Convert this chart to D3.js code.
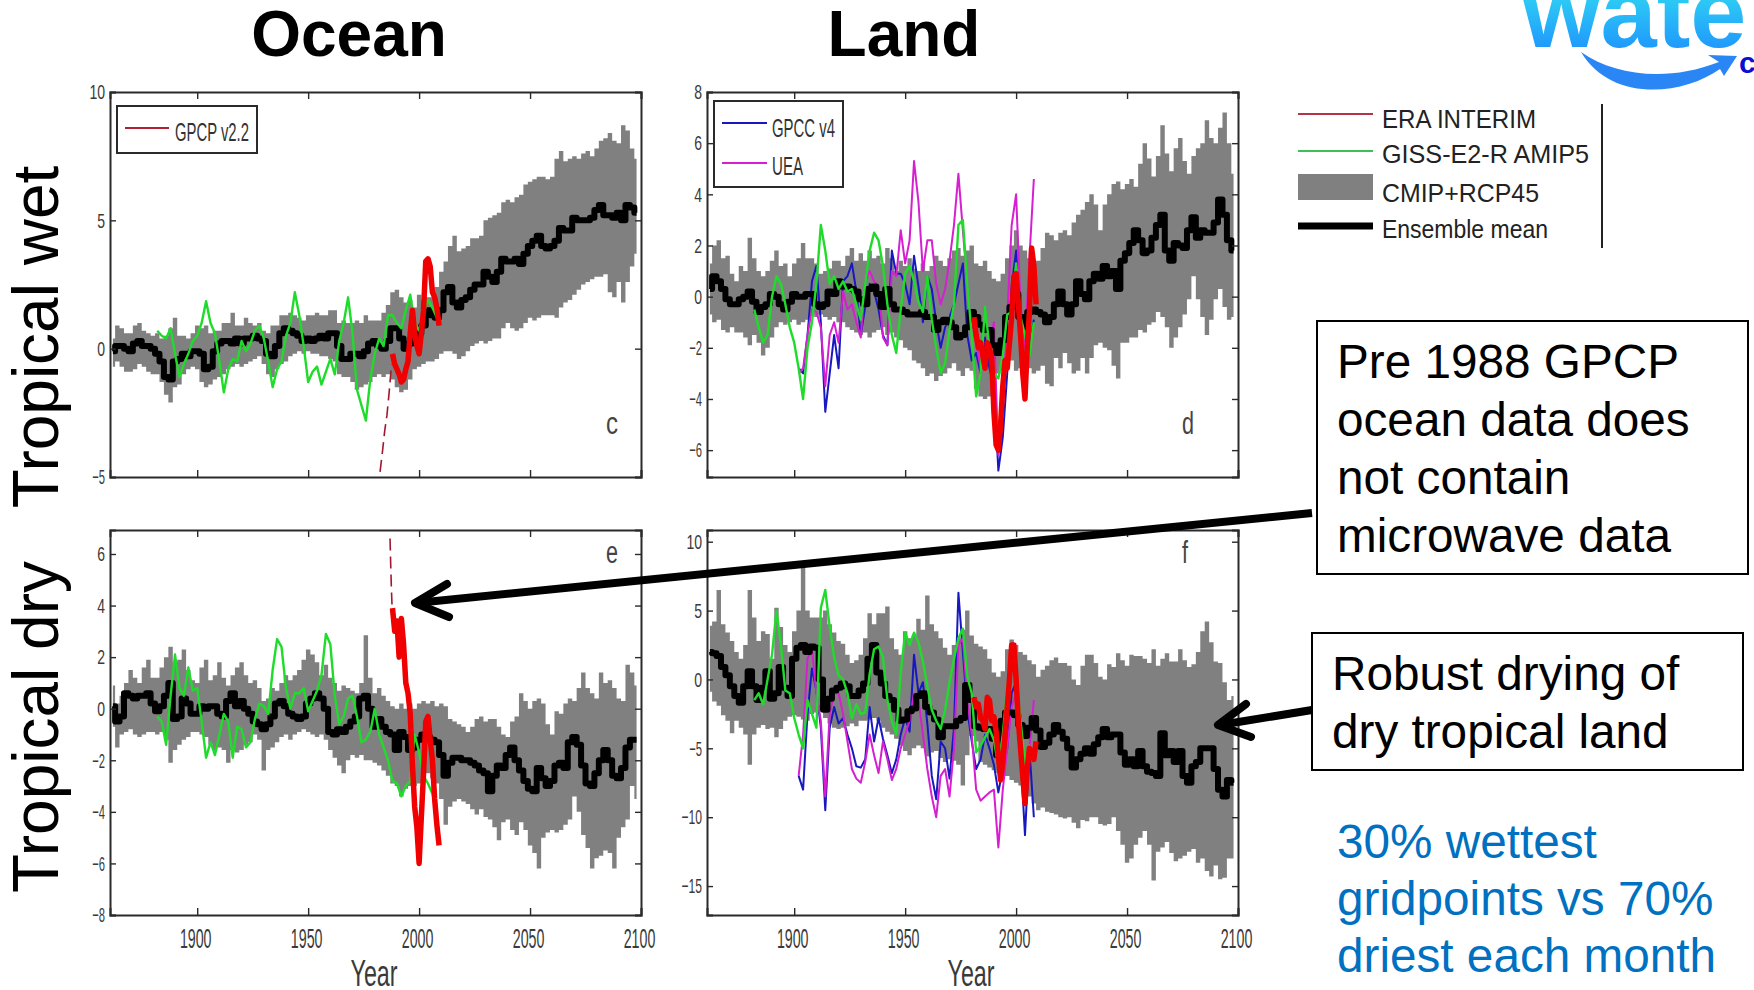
<!DOCTYPE html>
<html><head><meta charset="utf-8">
<script src="https://cdnjs.cloudflare.com/ajax/libs/d3/7.8.5/d3.min.js"></script>
<style>html,body{margin:0;padding:0;background:#fff}svg{display:block}text{font-family:"Liberation Sans",Arial,sans-serif}</style>
</head><body><svg id="c" width="1754" height="990"></svg>
<script>
// Band and mean series: one value per 2 years, first year below
const bandStartYear = 1862;
const obsStartYear = 1902, gissStartYear = 1882, oceanEraStart = 1988, landEraStart = 1981;
const xTicks = [1900,1950,2000,2050,2100];
const yTicksC = [-5,0,5,10], yTicksD = [-6,-4,-2,0,2,4,6,8], yTicksE = [-8,-6,-4,-2,0,2,4,6], yTicksF = [-15,-10,-5,0,5,10];

const upperC = [.4,.9,.8,.6,.6,.9,1.0,.7,.6,.5,
.6,.4,.5,.8,1.2,.5,.5,.4,.6,.9,
.8,.9,.6,.7,.7,1.0,1.0,1.4,.9,.9,
1.2,1.0,.9,1.0,.7,.6,.9,.9,1.3,1.3,
1.4,1.3,1.2,1.1,1.3,1.3,1.4,1.3,1.3,1.5,
1.5,1.0,1.1,1.0,1.0,1.1,1.0,1.3,1.1,1.1,
1.1,1.4,1.7,2.2,2.3,2.0,1.8,1.9,1.6,2.1,
1.9,2.0,2.0,2.4,3.0,3.4,4.0,4.4,3.8,3.9,
4.0,4.3,4.3,4.4,5.0,5.1,5.2,5.3,5.7,5.8,
5.7,5.9,6.0,6.4,6.5,6.6,6.7,6.7,6.6,6.7,
7.4,7.7,7.3,7.4,7.5,7.4,7.6,7.7,7.5,7.8,
8.1,8.2,8.4,8.1,8.0,8.7,8.5,7.8,7.4];
const lowerC = [-.7,-.5,-.7,-.9,-.9,-.8,-.6,-.7,-.9,-1.0,
-1.0,-1.3,-1.8,-2.1,-1.5,-1.4,-1.0,-.8,-.7,-.8,
-1.3,-1.5,-1.4,-1.2,-1.1,-1.0,-.8,-.7,-.6,-.7,
-.6,-.5,-.4,-.3,-.6,-1.0,-1.1,-.8,-.6,-.5,
-.3,-.2,-.1,-.2,-.1,-.2,-.2,-.3,-.3,-.4,
-.5,-1.0,-1.1,-1.1,-1.3,-1.6,-1.5,-1.4,-1.3,-1.1,
-1.0,-1.1,-1.0,-1.2,-1.5,-1.7,-1.6,-1.2,-.8,-.7,
-.6,-.5,-.5,-.4,-.2,-.1,-.1,-.2,-.4,-.3,
-.1,.1,.2,.3,.2,.3,.4,.4,.8,1.0,
.8,.7,.8,1.0,1.2,1.1,1.2,1.3,1.3,1.3,
1.2,1.6,1.8,1.9,2.1,2.3,2.5,2.6,2.7,2.8,
2.8,2.9,2.2,2.0,2.6,1.8,2.6,3.2,3.7];
const meanC = [-.1,.1,.1,0,-.1,.2,.3,.1,.1,0,
-.2,-.5,-1.1,-1.2,-.5,-.4,-.2,-.3,-.1,-.1,
-.2,-.8,-.7,-.1,.2,.3,.3,.2,.4,.2,
.4,.4,.5,.4,.3,-.2,-.3,.1,.6,.8,
.7,.6,.5,.3,.4,.3,.4,.5,.4,.6,
.6,.1,-.4,-.4,-.2,-.2,-.3,-.1,.2,.3,
.1,0,.3,.8,.8,.4,0,.2,.5,.6,
.9,1.5,1.3,1.2,1.5,2.2,2.4,1.8,1.6,1.9,
2.0,2.3,2.5,2.5,3.0,2.8,2.6,3.0,3.5,3.4,
3.4,3.5,3.3,3.7,4.0,4.2,4.4,4.0,3.9,4.0,
4.2,4.7,4.6,4.6,5.1,5.0,5.0,5.0,5.1,5.4,
5.6,5.2,5.2,5.1,5.3,5.0,5.6,5.5,5.3];
const gissC = [.7,.5,.4,.8,-.2,-1.1,-.6,-.2,.3,.5,
1.0,1.85,1.0,.6,-.5,-1.7,-.8,-.4,-.5,.3,
-.1,.2,.7,.9,.4,-.5,-1.5,-.8,-.5,.5,
1.0,2.2,1.3,.1,-1.3,-.9,-.7,-1.4,-.9,-.4,
-1.0,.3,1.0,2.0,.6,-1.6,-2.2,-2.8,-1.2,-.2,
.4,.1,1.3,1.3,1.0,.8,1.5,2.1,1.0,.7,
1.4,1.9,1.6,1.2];
const eraC = [-.2,-.6,-.8,-1.0,-1.3,-1.2,-.8,-.5,.6,1.5,
.6,.1,-.2,.6,1.5,3.4,3.5,3.2,2.2,2.0,
1.6,.9];
const dashYearsC = [1982.4,1983.5,1984.5,1985.5,1986.5,1987.6];
const dashC = [-4.8,-4.0,-3.2,-2.6,-1.7,-.6];

const upperD = [1.3,2.0,2.2,1.5,1.6,.9,.6,1.2,1.0,2.3,
1.5,1.0,.8,1.0,1.4,1.8,1.2,1.3,.8,1.3,
1.5,2.1,1.5,1.5,1.3,.9,1.0,1.1,1.4,1.4,
1.2,1.6,1.9,1.4,1.7,1.4,1.8,1.5,1.6,1.3,
1.9,1.5,1.0,1.4,1.2,1.5,1.1,1.0,1.3,1.0,
1.2,1.6,1.4,1.2,1.5,1.8,1.9,1.6,1.8,2.0,
1.3,1.2,1.4,1.0,.7,.6,.9,1.5,2.0,2.6,
2.0,1.8,1.5,1.3,1.4,1.9,2.5,2.4,2.2,2.5,
2.6,2.4,2.9,3.2,3.4,3.7,4.0,3.6,2.6,3.6,
4.0,4.4,4.5,4.2,4.4,4.6,4.3,5.2,6.0,5.4,
4.7,5.5,6.7,5.6,4.9,5.8,6.2,5.3,4.8,5.5,
5.8,6.0,6.9,6.2,6.0,6.6,7.2,6.0,4.8];
const lowerD = [-.7,-1.0,-.9,-1.3,-1.4,-1.2,-1.4,-1.4,-1.6,-1.9,
-1.5,-1.8,-2.3,-2.0,-1.6,-1.2,-1.0,-1.1,-1.0,-.9,
-1.1,-1.0,-.9,-.7,-.8,-.7,-.8,-.9,-.8,-1.0,
-1.0,-1.2,-1.3,-1.4,-1.5,-1.4,-1.6,-1.4,-1.3,-1.2,
-1.5,-1.4,-1.6,-1.7,-2.0,-2.1,-2.5,-2.6,-2.8,-3.1,
-3.0,-3.3,-3.1,-3.0,-2.8,-2.6,-2.9,-3.1,-2.8,-2.9,
-3.6,-3.9,-4.0,-3.9,-3.5,-3.0,-2.9,-2.7,-2.5,-2.9,
-2.8,-2.7,-2.8,-3.0,-2.9,-2.7,-3.4,-3.5,-2.4,-2.8,
-2.2,-2.6,-3.0,-2.9,-2.4,-3.0,-2.4,-1.9,-1.8,-2.0,
-2.1,-2.7,-3.2,-1.8,-1.8,-1.6,-1.6,-1.3,-1.4,-1.1,
-1.0,-.6,-.8,-1.2,-2.0,-1.6,-1.2,-.7,-.1,.8,
-.1,-.8,-1.5,-.9,-.1,.3,-.4,-.9,-.8];
const meanD = [.3,.8,.6,.3,-.1,-.3,-.3,-.1,0,.2,
-.2,-.6,-.4,-.3,.1,0,-.3,-.5,-.2,.1,
0,0,.1,.1,-.3,-.4,-.3,.2,.1,.6,
.4,.4,.3,.2,-.1,-.3,.3,.4,.1,-.4,
.3,-.3,-.5,-.5,-.6,-.7,-.7,-.7,-.6,-.8,
-.8,-1.3,-1.0,-.9,-1.0,-1.2,-1.6,-1.5,-1.2,-.6,
-.8,-1.1,-1.3,-1.3,-1.9,-2.2,-1.7,-.8,-.4,.1,
-.8,-1.2,-.6,-.5,-.6,-.7,-1.0,-.8,-.3,.2,
-.3,-.7,-.3,.6,.1,-.1,.6,.9,.7,1.2,
.8,1.0,.3,1.4,1.7,2.1,2.6,2.2,1.7,1.8,
2.3,2.8,3.2,1.8,1.4,2.1,2.0,1.9,2.6,3.1,
2.3,2.6,2.5,2.5,2.9,3.8,3.2,2.2,1.8];
const gissD = [-.5,-1.2,-1.8,-1.5,0,.8,.5,-.3,-1.2,-1.8,
-2.8,-4.0,-2.0,-1.0,.5,2.8,1.8,.5,.8,.3,
.6,.2,.3,-.3,-.9,.5,1.8,2.5,2.2,1.2,
-.3,-1.5,-2.2,-.5,.9,1.2,.6,-.2,-.6,.8,
-.9,-2.0,-3.0,-2.6,-1.3,-.3,2.8,3.0,.5,-1.5,
-3.9,-3.0,-.4,-2.0,-3.0,-3.2,-2.3,-.7,-.6,1.3,
-.8,-1.5,-2.3,-1.0];
const gpccD = [-2.8,-3.0,-1.5,.6,1.2,-1.0,-4.5,-3.0,-1.5,-2.8,
.6,.8,1.3,.2,-1.5,-.4,.5,.2,-.5,-1.5,
-1.9,1.8,.9,.9,.5,-.3,1.6,.4,-1.0,.8,
.3,-1.0,-2.0,-1.2,-.8,-.3,.5,1.3,-1.5,-2.5,
-2.2,-3.0,-1.6,-2.8,-3.5,-6.8,-5.5,-3.0,.4,1.8,
-1.5,-3.0,-2.0,-.9];
const ueaD = [-3.0,-2.8,-1.5,-.5,-.6,-1.2,-3.5,-1.5,-1.0,-1.8,
.2,-.5,-.3,-1.0,-1.6,.6,1.0,.6,.4,-1.6,
-1.9,1.0,.8,2.6,1.3,2.2,5.3,3.7,1.0,2.2,
2.2,.5,-.3,.3,1.4,2.8,4.8,2.6,.5,-1.2,
-1.8,-2.8,-.4,-1.9,-1.0,-6.2,-4.5,-.8,2.8,4.0,
-.3,-2.0,1.5,4.6];
const eraD = [-.8,-1.5,-2.0,-1.8,-2.3,-2.8,-1.8,-2.0,-2.4,-4.5,
-5.8,-6.0,-5.0,-3.5,-2.5,-2.8,-1.8,-.8,.8,.9,
-.3,-1.5,-3.0,-4.0,-2.0,-.6,1.9,1.2,-.3];

const upperE = [.9,.2,.5,1.0,1.5,1.2,1.0,1.6,1.9,1.2,
1.2,1.6,2.0,2.4,1.8,1.9,2.3,1.5,1.1,1.0,
1.6,1.9,1.1,1.3,1.8,1.2,.9,1.3,1.6,1.8,
1.3,1.0,1.1,.8,.3,.4,.8,.7,1.0,1.3,
1.1,1.3,1.5,1.9,2.3,2.1,1.8,1.3,1.7,1.2,
1.0,.7,.9,.8,.7,.6,1.0,2.85,1.2,.6,
.8,.5,.3,.1,0,.2,0,.2,0,.2,
.3,.2,.3,.1,.2,.1,-.4,-.5,-.6,-.7,
-.9,-.7,-.4,-.3,-.5,-.4,-.4,-.7,-1.0,-1.1,
-.5,-.3,.6,.3,0,.3,.4,.2,-.6,-1.0,
-.1,-.2,.2,.4,.3,.8,1.4,.8,.6,.4,
1.4,1.0,1.1,.8,.4,.3,1.7,1.4,.9];
const lowerE = [-.7,-1.5,-1.0,-.9,-.8,-1.0,-1.1,-1.0,-.9,-.9,
-1.0,-.9,-1.2,-2.1,-1.6,-1.4,-1.2,-1.1,-.9,-.9,
-1.0,-1.1,-1.4,-1.6,-1.5,-1.6,-2.1,-1.6,-1.7,-1.6,
-1.4,-1.3,-1.0,-1.2,-2.4,-1.6,-1.5,-1.3,-1.1,-1.0,
-1.2,-1.0,-.9,-.8,-.9,-1.0,-1.1,-1.0,-1.2,-1.6,
-1.9,-2.2,-2.5,-2.0,-1.8,-1.9,-1.8,-2.0,-2.0,-2.1,
-2.2,-2.4,-2.6,-2.9,-3.0,-3.4,-3.1,-3.0,-3.0,-2.9,
-2.7,-2.5,-2.7,-2.9,-3.5,-4.5,-3.8,-3.6,-3.5,-3.6,
-3.7,-3.9,-4.1,-3.9,-4.2,-4.3,-4.6,-5.1,-4.4,-4.3,
-4.7,-4.9,-4.4,-4.7,-5.3,-5.6,-6.2,-5.0,-4.8,-4.7,
-4.8,-4.7,-4.5,-4.3,-3.4,-4.0,-4.9,-5.4,-6.2,-5.8,
-5.7,-5.5,-5.6,-6.2,-5.0,-4.6,-4.3,-3.0,-3.5];
const meanE = [.1,-.5,-.3,.6,.5,.4,.5,.5,.6,.2,
-.1,.1,.5,1.0,-.4,-.3,.4,.2,-.2,-.2,
.1,0,.1,.1,-.2,-.3,.3,.6,.1,.3,
0,-.2,-.5,-.6,-.8,-.6,-.3,.2,.3,.1,
-.2,-.3,-.4,-.3,.2,.4,.6,.4,0,-.9,
-1.0,-.8,-.9,-.7,-.5,-.3,.4,.5,0,-.7,
-.4,-.7,-.9,-1.0,-1.6,-.9,-1.1,-1.6,-1.5,-1.2,
-1.0,-1.1,-1.2,-1.3,-1.8,-2.6,-2.1,-1.9,-1.9,-2.0,
-2.0,-2.1,-2.2,-2.4,-2.5,-3.2,-2.6,-2.2,-2.3,-1.8,
-1.5,-2.0,-2.4,-2.8,-3.1,-3.2,-2.3,-2.7,-3.0,-2.8,
-2.2,-2.1,-2.3,-1.3,-1.1,-1.4,-2.2,-2.9,-3.0,-2.5,
-2.0,-1.6,-2.0,-2.6,-2.7,-2.3,-1.5,-1.2,-1.2];
const gissE = [-.3,-.5,-1.4,.5,2.1,.8,.5,1.6,.7,.8,
-.5,-1.9,-1.3,-1.8,-1.0,-.2,-.5,-1.9,-.7,-.8,
-1.5,-1.3,-.4,.2,.1,-.2,1.5,2.7,2.4,.8,
0,.6,.6,.8,-.1,.3,.7,1.3,2.9,2.5,
.5,-.6,-.3,.4,.5,-.3,-1.3,-1.2,-.9,0,
-1.0,-1.5,-2.0,-2.8,-2.9,-3.4,-3.0,-2.8,-1.0,-1.7,
-2.6,-2.9,-3.3,-4.0];
const eraE = [3.9,3.0,3.4,2.0,3.5,2.5,1.0,.6,-.2,-2.2,
-3.8,-4.6,-6.0,-4.2,-2.5,-.5,-.3,-1.2,-2.0,-3.5,
-4.5,-5.3];
const dashYearsE = [1986.9,1987.2,1987.5,1987.8];
const dashE = [6.6,5.6,4.7,4.0];

const upperF = [3.9,4.2,6.5,4.0,3.4,2.8,2.0,1.5,2.5,6.5,
4.5,2.8,3.5,3.3,1.5,5.2,3.8,2.5,2.0,3.5,
5.0,8.2,5.0,4.5,4.5,4.5,5.0,4.0,3.4,2.8,
2.6,1.8,1.2,1.4,1.8,3.0,4.8,4.0,4.8,4.8,
5.3,3.0,2.2,1.8,3.5,3.0,3.2,4.4,3.6,6.1,
4.0,3.5,3.0,2.3,1.8,2.5,3.0,3.6,5.0,3.2,
2.6,2.4,2.2,1.5,.5,.2,.6,2.2,2.9,2.5,
2.0,1.8,1.4,1.1,.2,.7,1.0,1.4,1.6,1.2,
1.2,1.0,0,-.4,1.0,1.8,1.8,1.2,.2,0,
1.1,.9,1.9,1.4,1.0,1.8,1.7,1.7,1.5,1.2,
2.2,1.0,1.5,1.9,1.3,1.3,2.2,1.4,.9,1.1,
2.0,3.5,4.2,2.7,1.3,1.2,-.2,-1.5,-1.2];
const lowerF = [-.9,-1.6,-1.9,-2.6,-3.0,-3.9,-3.0,-3.5,-4.0,-6.2,
-4.0,-3.5,-3.3,-3.6,-3.5,-4.2,-3.6,-3.0,-2.7,-2.6,
-2.7,-2.9,-3.0,-2.5,-2.4,-2.3,-2.8,-3.2,-3.5,-3.6,
-3.5,-3.4,-3.2,-3.4,-3.0,-3.0,-2.9,-2.8,-3.0,-3.5,
-3.8,-4.0,-4.3,-4.8,-5.2,-5.5,-5.0,-4.8,-5.0,-5.6,
-5.3,-5.2,-5.7,-6.0,-5.8,-5.9,-6.2,-7.7,-5.5,-4.1,
-4.5,-6.0,-6.2,-6.4,-6.6,-6.8,-6.7,-7.0,-7.3,-7.5,
-7.7,-8.0,-8.5,-9.0,-9.5,-9.3,-9.6,-9.7,-9.8,-10.0,
-10.1,-10.0,-10.4,-10.8,-10.2,-10.3,-10.0,-10.0,-10.5,-10.6,
-10.5,-10.0,-11.0,-12.0,-13.3,-13.0,-12.0,-11.5,-11.0,-12.0,
-14.6,-12.5,-12.2,-11.8,-12.6,-13.2,-13.0,-12.8,-12.5,-12.3,
-13.3,-13.0,-13.9,-14.3,-13.5,-14.5,-14.4,-13.0,-13.0];
const meanF = [2.0,1.9,1.7,.9,.3,-.5,-1.2,-1.7,-.5,.6,
-.5,-1.5,-.6,.6,-1.4,-1.0,.9,-.6,-1.2,1.5,
2.3,2.5,2.0,2.4,2.3,0,-2.2,-1.4,-.8,-.6,
-.3,-.5,-1.2,-1.2,-.8,-.3,1.5,2.5,.5,-.3,
-1.2,-1.5,-2.2,-3.0,-2.9,-2.3,-2.1,-1.2,-1.0,-2.0,
-2.4,-2.9,-4.2,-3.4,-3.4,-3.4,-3.0,-2.8,-.4,-1.5,
-3.4,-3.5,-3.6,-3.6,-4.3,-5.5,-3.0,-2.4,-2.4,-2.6,
-3.3,-4.1,-3.5,-2.8,-3.7,-4.9,-4.6,-4.0,-3.3,-3.8,
-4.3,-5.0,-6.4,-5.8,-5.4,-5.0,-5.4,-4.7,-4.2,-3.6,
-4.2,-4.0,-4.0,-5.3,-6.2,-5.8,-6.3,-5.2,-6.3,-6.7,
-6.8,-7.0,-3.9,-5.5,-5.2,-6.0,-5.2,-7.0,-7.5,-6.3,
-6.0,-5.0,-5.0,-5.0,-6.5,-8.0,-8.5,-7.3,-7.5];
const gissF = [-1.5,-1.0,-1.8,0,1.8,5.0,2.5,-.8,-1.0,-2.8,
-4.0,-5.0,-1.5,-2.5,-3.5,5.2,6.5,3.8,1.6,.3,
0,-1.0,-2.8,-1.8,-2.5,-2.4,.4,2.2,2.4,1.6,
-1.5,-3.0,-4.0,.5,3.4,2.5,3.4,2.7,1.3,-.5,
-2.2,-3.0,-3.6,-2.2,-.2,1.5,3.0,3.7,.2,-1.0,
-5.3,-4.8,-4.2,-3.6,-4.4,-6.3,-4.0,-.5,1.0,0,
-3.0,-6.0,-4.8,-5.5];
const gpccF = [-7.0,-8.0,-2.5,.8,-.8,-3.5,-9.5,-3.5,-2.0,-3.2,
-2.8,-4.0,-5.0,-6.3,-6.4,-5.8,-2.0,-4.5,-2.8,-4.3,
-5.5,-6.8,-5.8,-4.0,-2.8,-3.8,1.8,-1.0,-.2,-3.2,
-7.0,-8.7,-4.5,-5.0,-7.2,-3.5,6.3,2.0,-2.2,-4.5,
-6.5,-5.8,-4.0,-5.0,-6.2,-8.2,-6.5,-5.0,-1.0,-.2,
-5.5,-11.3,-5.0,-10.0];
const ueaF = [-7.0,-4.0,1.5,2.2,-1.0,-3.0,-8.5,-2.5,-1.0,-1.0,
-2.5,-4.5,-6.5,-7.2,-7.5,-6.0,-4.0,-5.5,-6.8,-4.5,
-5.8,-7.3,-6.5,-5.0,-4.0,-3.0,-1.0,-1.5,-4.0,-6.5,
-8.5,-10.0,-7.0,-6.5,-8.5,-5.0,2.5,3.0,-1.5,-4.0,
-8.0,-8.8,-8.5,-8.2,-8.0,-12.2,-8.0,-5.0,-2.0,-1.0,
-5.0,-9.0,-5.0,-1.5];
const eraF = [-1.3,-2.0,-1.8,-2.8,-3.0,-3.6,-1.3,-1.5,-3.0,-2.7,
-3.8,-5.5,-7.3,-6.0,-4.0,-2.0,0,2.5,2.5,0,
-3.0,-5.0,-7.0,-9.0,-6.5,-5.0,-5.5,-5.8,-4.5];

const rightLegendLabels = ["ERA INTERIM","GISS-E2-R AMIP5","CMIP+RCP45","Ensemble mean"];
const noteOcean = ["Pre 1988 GPCP","ocean data does","not contain","microwave data"];
const noteLand = ["Robust drying of","dry tropical land"];
const noteBlue = ["30% wettest","gridpoints vs 70%","driest each month"];

const GREY="#808080", GREEN="#1fdc2a", RED="#f00000", DARKRED="#a01830", BLUE="#1818c0", MAG="#d61fd0", INK="#2a2a2a";
const svg = d3.select("#c");
const defs = svg.append("defs");
const grad = defs.append("linearGradient").attr("id","logoGrad").attr("x1",0).attr("x2",0).attr("y1",0).attr("y2",1);
grad.append("stop").attr("offset","0%").attr("stop-color","#39f4ee");
grad.append("stop").attr("offset","100%").attr("stop-color","#1a86ff");

const yrs = (arr, start, step) => arr.map((v,i)=>({x:start+step*i, y:v}));
function squeeze(sel, perChar, minusW){
  sel.each(function(){
    const t = this.textContent;
    let w = 0; for(const ch of t) w += (ch==="-"||ch==="−") ? minusW : perChar;
    d3.select(this).attr("textLength",w).attr("lengthAdjust","spacingAndGlyphs");
  });
}

const panels = [
 {id:"c",L:110,R:641,T:92,B:477,dom:[-5,10],yt:yTicksC,up:upperC,lo:lowerC,mean:meanC,giss:gissC,era:eraC,eraStart:oceanEraStart,dashX:dashYearsC,dashY:dashC,letter:"c",lx:612,ly:434,year:false},
 {id:"d",L:707,R:1238,T:92,B:477,dom:[-7.05,8],yt:yTicksD,up:upperD,lo:lowerD,mean:meanD,giss:gissD,era:eraD,eraStart:landEraStart,gpcc:gpccD,uea:ueaD,letter:"d",lx:1188,ly:434,year:false},
 {id:"e",L:110,R:641,T:530,B:915,dom:[-8,6.93],yt:yTicksE,up:upperE,lo:lowerE,mean:meanE,giss:gissE,era:eraE,eraStart:oceanEraStart,dashX:dashYearsE,dashY:dashE,letter:"e",lx:612,ly:563,year:true},
 {id:"f",L:707,R:1238,T:530,B:915,dom:[-17.1,10.85],yt:yTicksF,up:upperF,lo:lowerF,mean:meanF,giss:gissF,era:eraF,eraStart:landEraStart,gpcc:gpccF,uea:ueaF,letter:"f",lx:1185,ly:563,year:true}
];

panels.forEach(p=>{
  const x = d3.scaleLinear().domain([1860.7,2100]).range([p.L,p.R]);
  const y = d3.scaleLinear().domain(p.dom).range([p.B,p.T]);
  defs.append("clipPath").attr("id","clip"+p.id).append("rect").attr("x",p.L).attr("y",p.T).attr("width",p.R-p.L).attr("height",p.B-p.T);
  const g = svg.append("g");
  const plot = g.append("g").attr("clip-path",`url(#clip${p.id})`);
  const band = p.up.map((u,i)=>({x:bandStartYear+2*i,u,l:p.lo[i]}));
  plot.append("path").datum(band).attr("fill",GREY)
    .attr("d",d3.area().curve(d3.curveStep).x(d=>x(d.x)).y0(d=>y(d.l)).y1(d=>y(d.u)));
  const line = d3.line().curve(d3.curveLinear).x(d=>x(d.x)).y(d=>y(d.y));
  const stepLine = d3.line().curve(d3.curveStep).x(d=>x(d.x)).y(d=>y(d.y));
  const draw = (data,color,w,extra,gen)=>{
    const s = plot.append("path").datum(data).attr("fill","none").attr("stroke",color).attr("stroke-width",w).attr("stroke-linejoin","round").attr("d",gen||line);
    if(extra) s.attr("stroke-dasharray",extra);
  };
  if(p.gpcc){ draw(yrs(p.gpcc,obsStartYear,2),BLUE,2); draw(yrs(p.uea,obsStartYear,2),MAG,2); }
  draw(yrs(p.mean,bandStartYear,2),"#000",6,null,stepLine);
  draw(yrs(p.giss,gissStartYear,2),GREEN,2.4);
  if(p.dashX) draw(p.dashX.map((d,i)=>({x:d,y:p.dashY[i]})),DARKRED,1.6,"12 6");
  draw(yrs(p.era,p.eraStart,1),RED,5.5);
  // axes drawn through d3.axis, ticks inward on all sides
  const axes = [
    [d3.axisBottom(x).tickValues(xTicks).tickFormat(d3.format("d")).tickSize(-7).tickPadding(14),`translate(0,${p.B})`,p.year],
    [d3.axisTop(x).tickValues(xTicks).tickSize(-7).tickFormat(""),`translate(0,${p.T})`,false],
    [d3.axisLeft(y).tickValues(p.yt).tickSize(-6).tickPadding(5),`translate(${p.L},0)`,true],
    [d3.axisRight(y).tickValues(p.yt).tickSize(-6).tickFormat(""),`translate(${p.R},0)`,false]
  ];
  axes.forEach(([ax,tr,show],k)=>{
    const a = g.append("g").attr("transform",tr).call(ax);
    a.selectAll("path.domain").attr("stroke",INK).attr("stroke-width",2);
    a.selectAll(".tick line").attr("stroke",INK).attr("stroke-width",1.4);
    const tx = a.selectAll(".tick text").attr("fill","#3a3a3a").style("font-family",'"Liberation Sans",sans-serif');
    if(!show) tx.remove();
    else if(k===0){ tx.style("font-size","27px").attr("x",-2); squeeze(tx,7.9,5); }
    else { tx.style("font-size","21px"); squeeze(tx,7.8,5); }
  });
  g.append("text").attr("x",p.lx).attr("y",p.ly).attr("text-anchor","middle").attr("font-size",31).attr("fill","#444")
   .attr("textLength",p.letter==="f"?6:12).attr("lengthAdjust","spacingAndGlyphs").text(p.letter);
  if(p.year){
    const cx = p.id==="e"?374:971;
    g.append("text").attr("x",cx).attr("y",986).attr("text-anchor","middle").attr("font-size",36).attr("fill","#3a3a3a")
     .attr("textLength",47).attr("lengthAdjust","spacingAndGlyphs").text("Year");
  }
});

// in-panel legends
function boxLegend(bx,by,bw,bh,items){
  svg.append("rect").attr("x",bx).attr("y",by).attr("width",bw).attr("height",bh).attr("fill","#fff").attr("stroke",INK).attr("stroke-width",2);
  items.forEach(it=>{
    svg.append("line").attr("x1",it.x1).attr("x2",it.x2).attr("y1",it.y).attr("y2",it.y).attr("stroke",it.c).attr("stroke-width",2);
    svg.append("text").attr("x",it.tx).attr("y",it.by).attr("font-size",25).attr("fill","#333")
      .attr("textLength",it.w).attr("lengthAdjust","spacingAndGlyphs").text(it.t);
  });
}
boxLegend(117,106,140,47,[{x1:125,x2:169,y:128,c:"#b02030",tx:175,by:141,w:74,t:"GPCP v2.2"}]);
boxLegend(714,101,129,86,[
 {x1:722,x2:767,y:123,c:BLUE,tx:772,by:137,w:63,t:"GPCC v4"},
 {x1:722,x2:767,y:163,c:MAG,tx:772,by:175,w:31,t:"UEA"}]);

// titles
[["Ocean",349],["Land",904]].forEach(([t,x])=>svg.append("text").attr("x",x).attr("y",56).attr("text-anchor","middle").attr("font-size",64).attr("font-weight","700").attr("fill","#000").text(t));
[["Tropical wet",337],["Tropical dry",727]].forEach(([t,cy])=>svg.append("text").attr("transform",`translate(58,${cy}) rotate(-90)`).attr("text-anchor","middle").attr("font-size",64).attr("fill","#000").text(t));

// right legend
const legLineY = [114,151,null,226], legTextY = [128,163,202,238], legTextW = [154,207,157,166], legColors=["#b83246",  "#3fbf55", null, "#000"], legWidths=[2,2,0,7];
rightLegendLabels.forEach((t,i)=>{
  if(legLineY[i]!==null) svg.append("line").attr("x1",1298).attr("x2",1373).attr("y1",legLineY[i]).attr("y2",legLineY[i]).attr("stroke",legColors[i]).attr("stroke-width",legWidths[i]);
  else svg.append("rect").attr("x",1298).attr("y",174).attr("width",75).attr("height",26).attr("fill",GREY);
  svg.append("text").attr("x",1382).attr("y",legTextY[i]).attr("font-size",25).attr("fill","#222")
    .attr("textLength",legTextW[i]).attr("lengthAdjust","spacingAndGlyphs").text(t);
});
svg.append("line").attr("x1",1602).attr("x2",1602).attr("y1",104).attr("y2",248).attr("stroke","#222").attr("stroke-width",2);

// callouts
svg.append("rect").attr("x",1317).attr("y",321).attr("width",431).attr("height",253).attr("fill","#fff").attr("stroke","#000").attr("stroke-width",2);
noteOcean.forEach((t,i)=>svg.append("text").attr("x",1337).attr("y",378+58*i).attr("font-size",47.7).attr("fill","#000").text(t));
svg.append("rect").attr("x",1312).attr("y",633).attr("width",431).attr("height",137).attr("fill","#fff").attr("stroke","#000").attr("stroke-width",2);
noteLand.forEach((t,i)=>svg.append("text").attr("x",1332).attr("y",690+58*i).attr("font-size",47.7).attr("fill","#000").text(t));
noteBlue.forEach((t,i)=>svg.append("text").attr("x",1337).attr("y",858+57*i).attr("font-size",47.7).attr("fill","#0070c0").text(t));

// arrows
const arrowStyle = s=>s.attr("fill","none").attr("stroke","#000").attr("stroke-width",8).attr("stroke-linecap","round").attr("stroke-linejoin","round");
arrowStyle(svg.append("path").attr("d","M1312,513 L416,603")).attr("stroke-linecap","butt");
arrowStyle(svg.append("path").attr("d","M447,584 L415,603 L449,617"));
arrowStyle(svg.append("path").attr("d","M1312,710 L1220,725")).attr("stroke-linecap","butt");
arrowStyle(svg.append("path").attr("d","M1246,704 L1218,725 L1251,737"));

// logo, cut off by the top and right edge of the page
svg.append("text").attr("x",1522).attr("y",47).attr("font-size",101).attr("font-weight","700").attr("fill","url(#logoGrad)").text("wate");
svg.append("path").attr("fill","#2a86f5").attr("d","M1581,52 C1615,76 1668,82 1719,62 L1708,55 L1737,56 L1724,76 L1720,69 C1680,97 1610,101 1581,52 Z");
svg.append("text").attr("x",1739).attr("y",73).attr("font-size",30).attr("font-weight","700").attr("fill","#0a10d0").text("c");
</script></body></html>
